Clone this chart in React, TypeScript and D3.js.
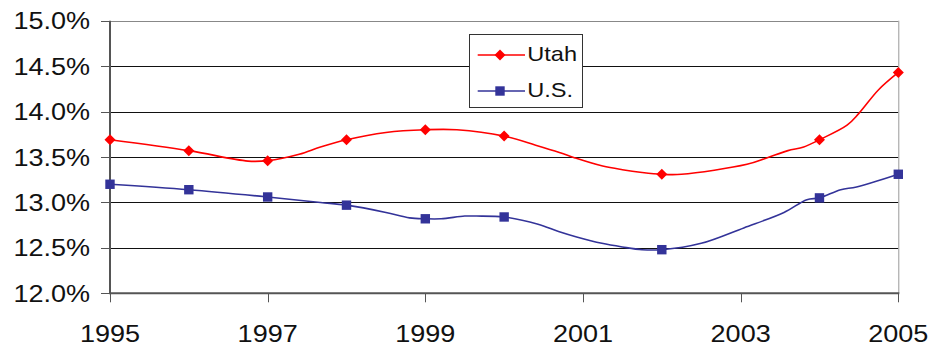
import React from "react";
import * as d3 from "d3";

const utahYears = [1995, 1996, 1996.75, 1997, 1997.4, 1997.67, 1998, 1998.5, 1999, 1999.4, 2000, 2000.4, 2000.7, 2000.9, 2001.25, 2001.5, 2001.75, 2002, 2002.25, 2003.08, 2003.33, 2003.6, 2003.8, 2004, 2004.35, 2004.5, 2004.75, 2005];
const utahValues = [13.69, 13.57, 13.455, 13.46, 13.53, 13.61, 13.69, 13.77, 13.8, 13.8, 13.73, 13.63, 13.55, 13.49, 13.4, 13.36, 13.33, 13.31, 13.31, 13.42, 13.49, 13.57, 13.61, 13.69, 13.85, 13.98, 14.24, 14.43];

const usYears = [1995, 1996, 1997, 1997.67, 1998, 1998.5, 1998.8, 1999, 1999.2, 1999.5, 1999.65, 2000, 2000.43, 2000.69, 2000.92, 2001.24, 2001.5, 2001.75, 2002, 2002.5, 2003.04, 2003.55, 2003.84, 2004, 2004.27, 2004.47, 2005];
const usValues = [13.2, 13.14, 13.06, 13.0, 12.97, 12.89, 12.83, 12.82, 12.82, 12.85, 12.85, 12.84, 12.76, 12.68, 12.62, 12.55, 12.51, 12.48, 12.48, 12.55, 12.72, 12.89, 13.03, 13.05, 13.14, 13.17, 13.31];

const markerYears = [1995, 1996, 1997, 1998, 1999, 2000, 2002, 2004, 2005];
const yTicks = [12.0, 12.5, 13.0, 13.5, 14.0, 14.5, 15.0];
const xTicks = [1995, 1997, 1999, 2001, 2003, 2005];
const seriesNames = ["Utah", "U.S."];

const FONT = "'Liberation Sans', Arial, sans-serif";
const SX = 1.15;

export default function App() {
  const x = d3.scaleLinear().domain([1995, 2005]).range([110, 898.3]);
  const y = d3.scaleLinear().domain([12, 15]).range([293.3, 20.7]);

  const line = d3
    .line<[number, number]>()
    .x((d) => x(d[0]))
    .y((d) => y(d[1]))
    .curve(d3.curveCatmullRom.alpha(0.5));

  const utah: [number, number][] = utahYears.map((yr, i) => [yr, utahValues[i]]);
  const us: [number, number][] = usYears.map((yr, i) => [yr, usValues[i]]);
  const utahMarks = utah.filter((d) => markerYears.includes(d[0]));
  const usMarks = us.filter((d) => markerYears.includes(d[0]));

  const diamond = (cx: number, cy: number, r: number) =>
    `M${cx},${cy - r}L${cx + r},${cy}L${cx},${cy + r}L${cx - r},${cy}Z`;

  const red = "#ff0000";
  const blue = "#333399";
  const x0 = x(1995);
  const x1 = x(2005);

  return (
    <svg width={941} height={345} style={{ position: "absolute", left: 0, top: 0, background: "#fff" }}>
      {/* gridlines */}
      {yTicks.map((t) => {
        const yy = Math.round(y(t)) + 0.5;
        const col = t === 15 ? "#888" : t === 12 ? "#555" : "#111";
        return (
          <g key={t}>
            {t !== 12 && <line x1={x0} x2={x1} y1={yy} y2={yy} stroke={col} strokeWidth={1} />}
            <line x1={101} x2={x0} y1={yy} y2={yy} stroke="#555" strokeWidth={1} />
            <text
              transform={`translate(90,${y(t) + 8.5}) scale(${SX},1)`}
              textAnchor="end"
              fontFamily={FONT}
              fontSize={23.5}
              fill="#111"
            >
              {t.toFixed(1) + "%"}
            </text>
          </g>
        );
      })}
      {/* right border */}
      <line x1={x1 + 0.5} x2={x1 + 0.5} y1={y(15)} y2={y(12)} stroke="#999" strokeWidth={1} />
      {/* left axis */}
      <line x1={x0} x2={x0} y1={y(15)} y2={y(12) + 1} stroke="#555" strokeWidth={2} />
      {/* bottom axis */}
      <line x1={x0} x2={x1 + 1} y1={y(12)} y2={y(12)} stroke="#555" strokeWidth={2} />
      {xTicks.map((t) => (
        <g key={t}>
          <line x1={Math.round(x(t)) + 0.5} x2={Math.round(x(t)) + 0.5} y1={y(12)} y2={y(12) + 9} stroke="#555" strokeWidth={1} />
          <text
            transform={`translate(${x(t)},342) scale(${SX},1)`}
            textAnchor="middle"
            fontFamily={FONT}
            fontSize={23.5}
            fill="#111"
          >
            {t}
          </text>
        </g>
      ))}

      {/* series */}
      <path d={line(utah) || ""} fill="none" stroke={red} strokeWidth={1.6} />
      <path d={line(us) || ""} fill="none" stroke={blue} strokeWidth={1.6} />
      {utahMarks.map((d) => (
        <path key={"u" + d[0]} d={diamond(x(d[0]), y(d[1]), 5.5)} fill={red} />
      ))}
      {usMarks.map((d) => (
        <rect key={"s" + d[0]} x={x(d[0]) - 4.7} y={y(d[1]) - 4.7} width={9.4} height={9.4} fill={blue} />
      ))}

      {/* legend */}
      <rect x={469.5} y={34.5} width={113} height={73} fill="#fff" stroke="#333" strokeWidth={1} />
      <line x1={477.7} x2={525} y1={55} y2={55} stroke={red} strokeWidth={1.6} />
      <path d={diamond(500, 55, 5.5)} fill={red} />
      <text transform={`translate(527.3,60.7) scale(${SX},1)`} fontFamily={FONT} fontSize={20.5} fill="#111">
        {seriesNames[0]}
      </text>
      <line x1={477.7} x2={525} y1={91} y2={91} stroke={blue} strokeWidth={1.6} />
      <rect x={500 - 4.7} y={91 - 4.7} width={9.4} height={9.4} fill={blue} />
      <text transform={`translate(527.3,96.5) scale(${SX},1)`} fontFamily={FONT} fontSize={20.5} fill="#111">
        {seriesNames[1]}
      </text>
    </svg>
  );
}
